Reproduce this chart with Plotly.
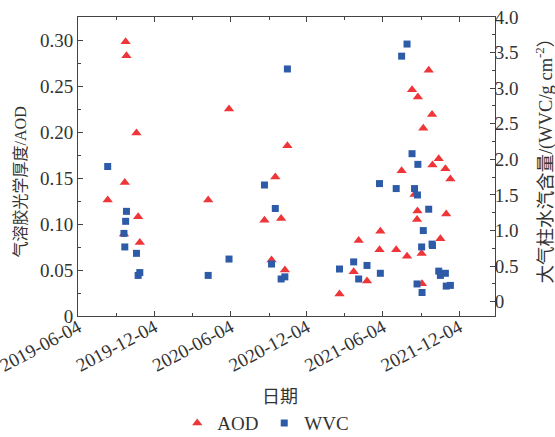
import plotly.graph_objects as go

dates = [
    "2019-08-14", "2019-09-22", "2019-09-24", "2019-09-26", "2019-09-28",
    "2019-10-22", "2019-10-26", "2019-10-30",
    "2020-04-11", "2020-05-31", "2020-08-24", "2020-09-10", "2020-09-19",
    "2020-10-03", "2020-10-12", "2020-10-18",
    "2021-02-20", "2021-03-26", "2021-04-07", "2021-04-27", "2021-05-27",
    "2021-05-29", "2021-07-06", "2021-07-19", "2021-08-01", "2021-08-13",
    "2021-08-19", "2021-08-25", "2021-08-26", "2021-08-27", "2021-09-05",
    "2021-09-06", "2021-09-09", "2021-09-22", "2021-09-30", "2021-10-01",
    "2021-10-16", "2021-10-20", "2021-11-01", "2021-11-03", "2021-11-13",
]
aod = [
    0.126, 0.089, 0.145, 0.298, 0.283, 0.199, 0.108, 0.080,
    0.126, 0.225, 0.104, 0.061, 0.151, 0.106, 0.050, 0.185,
    0.024, 0.048, 0.082, 0.038, 0.072, 0.092, 0.072, 0.158, 0.065,
    0.246, 0.132, 0.105, 0.114, 0.238, 0.068, 0.035, 0.204, 0.267,
    0.219, 0.164, 0.171, 0.084, 0.160, 0.111, 0.149,
]
wvc = [
    1.90, 0.96, 0.77, 1.13, 1.27, 0.68, 0.37, 0.41,
    0.37, 0.60, 1.64, 0.53, 1.31, 0.32, 0.35, 3.27,
    0.46, 0.56, 0.32, 0.51, 1.66, 0.40, 1.59, 3.45, 3.62,
    2.08, 1.59, 0.25, 1.50, 1.93, 0.77, 0.13, 1.00, 1.30,
    0.81, 0.79, 0.43, 0.37, 0.40, 0.22, 0.23,
]

x_ticks = ["2019-06-04", "2019-12-04", "2020-06-04", "2020-12-04", "2021-06-04", "2021-12-04"]
x_minor = ["2019-09-04", "2020-03-04", "2020-09-04", "2021-03-04", "2021-09-04"]
aod_ticks = [0, 0.05, 0.10, 0.15, 0.20, 0.25, 0.30]
aod_ticktext = ["0", "0.05", "0.10", "0.15", "0.20", "0.25", "0.30"]
wvc_ticks = [0, 0.5, 1.0, 1.5, 2.0, 2.5, 3.0, 3.5, 4.0]
wvc_ticktext = ["0", "0.5", "1.0", "1.5", "2.0", "2.5", "3.0", "3.5", "4.0"]

FONT = "Liberation Serif, DejaVu Serif, serif"
CJK = "<span style='font-family:Noto Sans CJK SC'>{}</span>"
TXT = "#333333"
AX = "#444444"
RED = "#EE3538"
BLUE = "#2D5BA8"

fig = go.Figure()
fig.add_trace(go.Scatter(
    x=dates, y=aod, mode="markers", name="AOD",
    marker=dict(symbol="triangle-up", size=9, color=RED, line=dict(width=0)),
    yaxis="y",
))
fig.add_trace(go.Scatter(
    x=dates, y=wvc, mode="markers", name="WVC",
    marker=dict(symbol="square", size=7, color=BLUE, line=dict(width=0)),
    yaxis="y2",
))

fig.update_layout(
    width=555, height=437,
    margin=dict(l=78, r=60, t=17, b=121, autoexpand=False),
    paper_bgcolor="white", plot_bgcolor="white",
    font=dict(family=FONT, size=19, color=TXT),
    showlegend=True,
    legend=dict(orientation="h", x=0.238, xanchor="left", y=-0.358, yanchor="middle",
                font=dict(size=19, family=FONT, color=TXT), entrywidth=42,
                itemwidth=30, bgcolor="rgba(0,0,0,0)"),
    xaxis=dict(
        type="date", range=["2019-06-03 18:00", "2022-02-28"], automargin=False,
        tickmode="array", tickvals=x_ticks, ticktext=x_ticks,
        tickangle=-28, ticks="inside", ticklen=5, tickwidth=1, tickcolor=AX,
        ticklabeloverflow="allow", ticklabelstandoff=-8,
        minor=dict(tickmode="array", tickvals=x_minor, ticks="inside", ticklen=3, tickcolor=AX),
        showline=True, linecolor=AX, linewidth=1, mirror="ticks",
        showgrid=False, zeroline=False,
        tickfont=dict(size=19, family=FONT, color=TXT),
    ),
    yaxis=dict(
        range=[0, 0.325], automargin=False,
        tickmode="array", tickvals=aod_ticks, ticktext=aod_ticktext,
        ticks="inside", ticklen=5, tickwidth=1, tickcolor=AX,
        minor=dict(tickmode="array", tickvals=[0.025, 0.075, 0.125, 0.175, 0.225, 0.275],
                   ticks="inside", ticklen=3, tickcolor=AX),
        showline=True, linecolor=AX, linewidth=1,
        showgrid=False, zeroline=False,
        tickfont=dict(size=19, family=FONT, color=TXT),
    ),
    yaxis2=dict(
        range=[-0.2, 4.0], overlaying="y", side="right", automargin=False,
        tickmode="array", tickvals=wvc_ticks, ticktext=wvc_ticktext,
        ticks="inside", ticklen=5, tickwidth=1, tickcolor=AX,
        ticklabelstandoff=-5,
        minor=dict(tickmode="array", tickvals=[0.25, 0.75, 1.25, 1.75, 2.25, 2.75, 3.25, 3.75],
                   ticks="inside", ticklen=3, tickcolor=AX),
        showline=True, linecolor=AX, linewidth=1,
        showgrid=False, zeroline=False,
        tickfont=dict(size=19, family=FONT, color=TXT),
    ),
    annotations=[
        dict(text=CJK.format("气溶胶光学厚度") + "/AOD", xref="paper", yref="paper",
             x=-0.1415, y=0.45,
             textangle=-90, showarrow=False, xanchor="center", yanchor="middle",
             font=dict(size=16, family=FONT, color=TXT)),
        dict(text=CJK.format("大气柱水汽含量") + "/(WVC/g cm<sup>-2</sup>" + CJK.format("）"),
             xref="paper", yref="paper",
             x=1.118, y=0.534, textangle=-90, showarrow=False, xanchor="center", yanchor="middle",
             font=dict(size=18.5, family=FONT, color=TXT)),
        dict(text=CJK.format("日期"), xref="paper", yref="paper", x=0.484, y=-0.264,
             showarrow=False, xanchor="center", yanchor="middle",
             font=dict(size=18, family=FONT, color=TXT)),
    ],
)

fig.write_html("out.html", config={"displayModeBar": False},
               post_script="document.body.style.margin='0';document.body.style.padding='0';")
